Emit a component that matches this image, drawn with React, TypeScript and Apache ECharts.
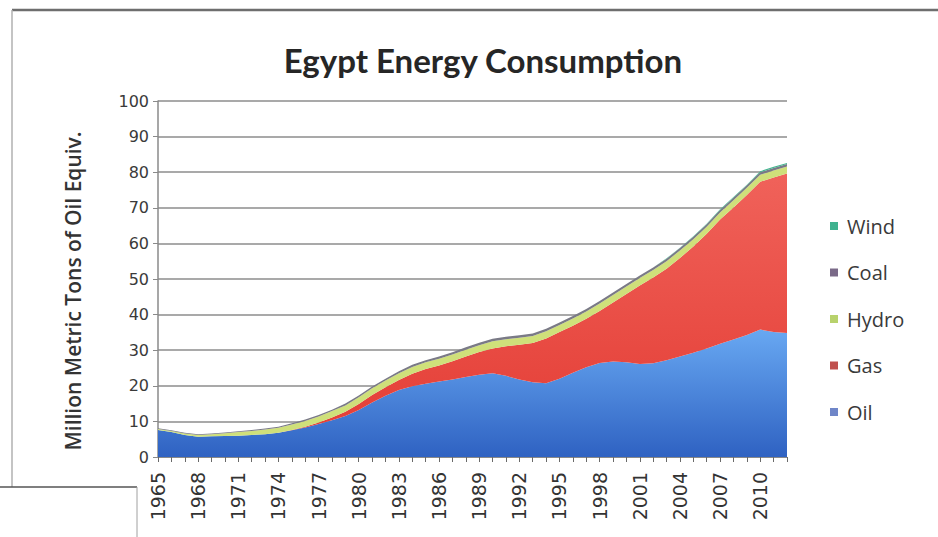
import React, { useEffect, useRef } from "react";
import * as echarts from "echarts";

// Egypt primary energy consumption, million tonnes of oil equivalent
const years = [
  "1965", "1966", "1967", "1968", "1969", "1970", "1971", "1972", "1973", "1974",
  "1975", "1976", "1977", "1978", "1979", "1980", "1981", "1982", "1983", "1984",
  "1985", "1986", "1987", "1988", "1989", "1990", "1991", "1992", "1993", "1994",
  "1995", "1996", "1997", "1998", "1999", "2000", "2001", "2002", "2003", "2004",
  "2005", "2006", "2007", "2008", "2009", "2010", "2011", "2012",
];

const oil = [
  7.6, 7.0, 6.2, 5.7, 5.8, 5.9, 6.0, 6.2, 6.4, 6.8,
  7.5, 8.3, 9.3, 10.3, 11.5, 13.2, 15.3, 17.2, 18.8, 19.9,
  20.6, 21.2, 21.8, 22.5, 23.1, 23.5, 22.8, 21.8, 21.0, 20.7,
  22.0, 23.7, 25.2, 26.4, 26.8, 26.6, 26.1, 26.3, 27.2, 28.2,
  29.3, 30.5, 31.8, 33.0, 34.3, 35.8, 35.1, 34.8,
];

const gas = [
  0, 0, 0, 0, 0, 0, 0, 0, 0, 0,
  0.1, 0.2, 0.4, 0.8, 1.2, 1.7, 2.1, 2.4, 2.8, 3.5,
  4.1, 4.5, 5.1, 5.7, 6.4, 7.0, 8.3, 9.7, 11.0, 12.6,
  13.1, 13.2, 13.6, 14.6, 16.6, 19.2, 22.1, 24.1, 25.7, 27.7,
  29.8, 32.2, 34.9, 37.1, 39.3, 41.5, 43.4, 44.8,
];

const hydro = [
  0.3, 0.3, 0.4, 0.5, 0.6, 0.8, 1.0, 1.1, 1.3, 1.4,
  1.5, 1.6, 1.7, 1.8, 1.8, 1.9, 1.9, 1.9, 1.9, 1.9,
  1.9, 1.9, 1.9, 1.9, 1.9, 2.0, 2.0, 2.0, 2.0, 2.0,
  2.0, 2.0, 2.1, 2.1, 2.1, 2.1, 2.1, 2.1, 2.1, 2.1,
  2.1, 2.0, 2.0, 2.0, 2.0, 2.0, 2.0, 2.0,
];

const coal = [
  0.2, 0.2, 0.2, 0.2, 0.2, 0.2, 0.2, 0.3, 0.3, 0.3,
  0.4, 0.4, 0.4, 0.4, 0.5, 0.5, 0.5, 0.5, 0.6, 0.6,
  0.6, 0.6, 0.6, 0.7, 0.7, 0.7, 0.7, 0.7, 0.7, 0.7,
  0.7, 0.7, 0.7, 0.7, 0.7, 0.7, 0.7, 0.7, 0.7, 0.7,
  0.7, 0.7, 0.7, 0.7, 0.7, 0.7, 0.7, 0.7,
];

const wind = [
  0, 0, 0, 0, 0, 0, 0, 0, 0, 0,
  0, 0, 0, 0, 0, 0, 0, 0, 0, 0,
  0, 0, 0, 0, 0, 0, 0, 0, 0, 0,
  0, 0, 0, 0, 0, 0, 0, 0.05, 0.1, 0.1,
  0.1, 0.15, 0.2, 0.2, 0.2, 0.3, 0.3, 0.3,
];

const legendOrder = ["Wind", "Coal", "Hydro", "Gas", "Oil"];
const yAxisTitle = "Million Metric Tons of Oil Equiv.";

const TITLE_FONT = "Lato, 'Open Sans', sans-serif";
const TEXT_FONT = "'Open Sans', Lato, sans-serif";
const NUM_FONT = "'DejaVu Sans', 'Open Sans', sans-serif";

function vGrad(top: string, bottom: string) {
  return new echarts.graphic.LinearGradient(0, 0, 0, 1, [
    { offset: 0, color: top },
    { offset: 1, color: bottom },
  ]);
}

function areaSeries(name: string, data: number[], fill: any, legendColor: string) {
  return {
    name,
    type: "line",
    stack: "total",
    data,
    symbol: "none",
    showSymbol: false,
    smooth: false,
    lineStyle: { width: 0 },
    itemStyle: { color: legendColor },
    areaStyle: { color: fill, opacity: 1 },
    emphasis: { disabled: true },
  };
}

export default function App() {
  const ref = useRef<HTMLDivElement>(null);

  useEffect(() => {
    if (!ref.current) return;
    const chart = echarts.init(ref.current, null, { renderer: "svg" });

    chart.setOption({
      animation: false,
      backgroundColor: "#ffffff",
      title: {
        text: "Egypt Energy Consumption",
        left: 478,
        top: 38,
        textAlign: "center",
        textStyle: {
          fontFamily: TITLE_FONT,
          fontWeight: "bold",
          fontSize: 33,
          color: "#262626",
        },
      },
      legend: {
        data: legendOrder,
        orient: "vertical",
        left: 825,
        top: 211,
        itemWidth: 8,
        itemHeight: 8,
        itemGap: 26.5,
        icon: "rect",
        selectedMode: false,
        textStyle: {
          fontFamily: TEXT_FONT,
          fontSize: 20,
          lineHeight: 20,
          color: "#3a3a3a",
          padding: [0, 0, 0, 4],
        },
      },
      grid: {
        left: 158,
        right: 151,
        top: 101,
        bottom: 80,
        containLabel: false,
      },
      xAxis: {
        type: "category",
        data: years,
        boundaryGap: false,
        axisLine: { show: true, lineStyle: { color: "#8a8a8a", width: 1 } },
        axisTick: {
          show: true,
          interval: 0,
          length: 5,
          lineStyle: { color: "#6a6a6a", width: 1 },
        },
        axisLabel: {
          interval: 2,
          rotate: 90,
          margin: 15,
          fontFamily: NUM_FONT,
          fontSize: 19,
          color: "#333333",
        },
        splitLine: { show: false },
      },
      yAxis: {
        type: "value",
        min: 0,
        max: 100,
        interval: 10,
        axisLine: { show: true, lineStyle: { color: "#8a8a8a", width: 1.5 } },
        axisTick: { show: true, length: 5, lineStyle: { color: "#8a8a8a", width: 1 } },
        axisLabel: {
          margin: 9,
          fontFamily: NUM_FONT,
          fontSize: 16,
          color: "#3a3a3a",
        },
        splitLine: { show: true, lineStyle: { color: "#8c8c8c", width: 1.5 } },
      },
      series: [
        areaSeries("Oil", oil, vGrad("#68a8f2", "#2f62c2"), "#6f86c8"),
        areaSeries("Gas", gas, vGrad("#f0625a", "#e43e36"), "#c0504d"),
        areaSeries("Hydro", hydro, "#cfe07a", "#b8d26c"),
        areaSeries("Coal", coal, "#7a7a86", "#7a6a88"),
        areaSeries("Wind", wind, "#43b58f", "#3fb28f"),
      ],
      graphic: [
        {
          type: "text",
          silent: true,
          x: 73,
          y: 291,
          rotation: Math.PI / 2,
          style: {
            text: yAxisTitle,
            align: "center",
            verticalAlign: "middle",
            fontFamily: TEXT_FONT,
            fontSize: 21,
            fontWeight: 600,
            fill: "#333333",
          },
        },
        {
          type: "line",
          silent: true,
          shape: { x1: 12, y1: 10, x2: 938, y2: 10 },
          style: { stroke: "#6e6e6e", lineWidth: 2.5 },
        },
        {
          type: "line",
          silent: true,
          shape: { x1: 12, y1: 10, x2: 12, y2: 487 },
          style: { stroke: "#b0b0b0", lineWidth: 1.5 },
        },
        {
          type: "line",
          silent: true,
          shape: { x1: 0, y1: 487, x2: 137, y2: 487 },
          style: { stroke: "#555555", lineWidth: 1.5 },
        },
        {
          type: "line",
          silent: true,
          shape: { x1: 137, y1: 487, x2: 137, y2: 537 },
          style: { stroke: "#a0a0a0", lineWidth: 1 },
        },
      ],
    });

    return () => chart.dispose();
  }, []);

  return (
    <div
      ref={ref}
      style={{ position: "fixed", left: 0, top: 0, width: 938, height: 537 }}
    />
  );
}
